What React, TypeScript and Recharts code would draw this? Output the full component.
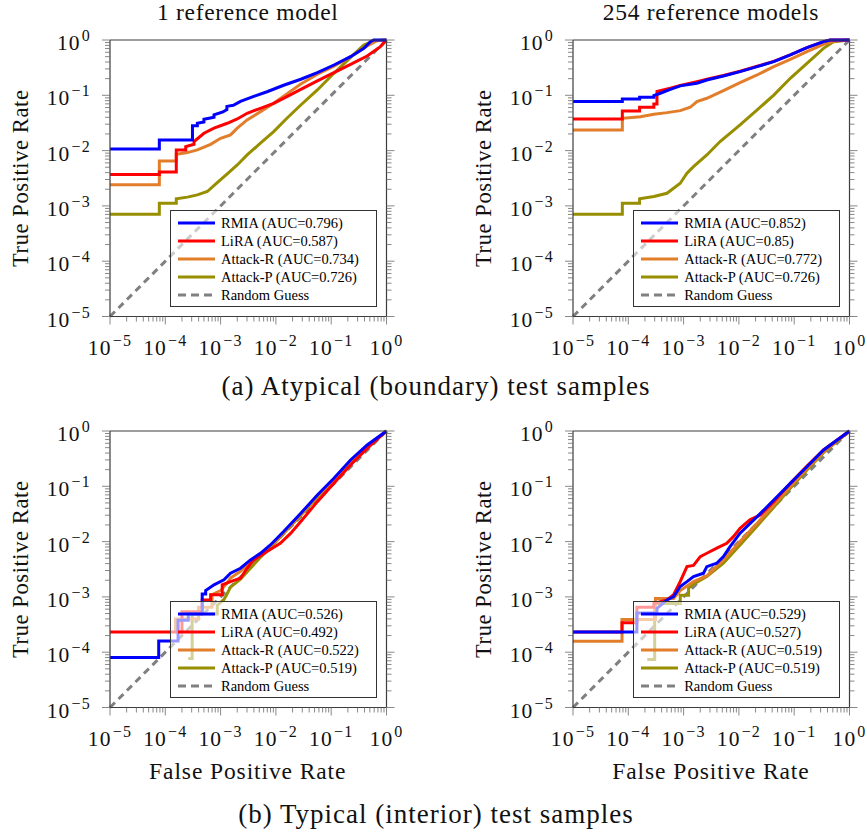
import React from 'react';
import { LineChart, Line, XAxis, YAxis, Legend } from 'recharts';

const FONT = "'Liberation Serif', 'DejaVu Serif', serif";

// ---------- tick values ----------
const majorTicks = [1e-5, 1e-4, 1e-3, 1e-2, 1e-1, 1];
const minorSteps = [2, 3, 4, 5, 6, 7, 8, 9];
const tickValues = [
  ...majorTicks,
  ...majorTicks.slice(0, -1).flatMap((m) => minorSteps.map((s) => m * s)),
].sort((a, b) => a - b);
const axisDomain: [number, number] = [1e-5, 1];

// ---------- series meta ----------
const seriesNames = ['RMIA', 'LiRA', 'Attack-R', 'Attack-P', 'Random Guess'];
const seriesColors = ['#0000ff', '#ff0000', '#e27d2a', '#978e00', '#808080'];

const panelTitles = ['1 reference model', '254 reference models'];
const captions = ['(a) Atypical (boundary) test samples', '(b) Typical (interior) test samples'];

const aucTL = ['0.796', '0.587', '0.734', '0.726'];
const aucTR = ['0.852', '0.85', '0.772', '0.726'];
const aucBL = ['0.526', '0.492', '0.522', '0.519'];
const aucBR = ['0.529', '0.527', '0.519', '0.519'];

// ---------- data: [FPR, TPR] ----------
const randomGuess = [[1e-5, 1e-5], [1, 1]];

// (a) Atypical, 1 reference model
const tlRmia = [
  [1e-5, 1.07e-2], [7.8e-5, 1.07e-2], [7.8e-5, 1.56e-2], [3.1e-4, 1.56e-2], [3.1e-4, 2.8e-2],
  [3.8e-4, 2.8e-2], [3.8e-4, 3.12e-2], [5.0e-4, 3.3e-2], [5.0e-4, 3.68e-2], [7.6e-4, 4.0e-2],
  [7.6e-4, 4.42e-2], [1.1e-3, 5.0e-2], [1.3e-3, 5.5e-2], [1.3e-3, 6.3e-2], [1.7e-3, 6.6e-2],
  [2.29e-3, 7.76e-2], [3.98e-3, 9.55e-2], [6.92e-3, 0.116], [1.38e-2, 0.152], [2.82e-2, 0.195],
  [5.62e-2, 0.257], [0.112, 0.353], [0.224, 0.5], [0.389, 0.706], [0.513, 0.933], [0.589, 1], [1, 1],
];
const tlLira = [
  [1e-5, 3.68e-3], [7.8e-5, 3.68e-3], [7.8e-5, 4.1e-3], [1.58e-4, 4.1e-3], [1.58e-4, 1.03e-2],
  [2.34e-4, 1.03e-2], [2.34e-4, 1.18e-2], [3.31e-4, 1.3e-2], [3.31e-4, 1.46e-2], [5.0e-4, 2.06e-2],
  [7.6e-4, 2.54e-2], [1.32e-3, 3.12e-2], [2.0e-3, 3.73e-2], [3.02e-3, 4.73e-2], [5.25e-3, 5.82e-2],
  [9.12e-3, 7.16e-2], [1.58e-2, 9.46e-2], [2.82e-2, 0.128], [5.62e-2, 0.182], [0.112, 0.257],
  [0.224, 0.363], [0.447, 0.514], [0.776, 0.759], [1, 1],
];
const tlAttackR = [
  [1e-5, 2.4e-3], [7.8e-5, 2.4e-3], [7.8e-5, 6.5e-3], [1.58e-4, 6.5e-3], [1.58e-4, 8.6e-3],
  [2.51e-4, 9.2e-3], [3.8e-4, 1.03e-2], [6.6e-4, 1.3e-2], [1.0e-3, 1.67e-2], [1.51e-3, 1.92e-2],
  [2.0e-3, 2.54e-2], [3.02e-3, 3.58e-2], [5.25e-3, 5.07e-2], [9.12e-3, 7.16e-2], [1.58e-2, 0.106],
  [2.82e-2, 0.16], [5.62e-2, 0.24], [0.112, 0.335], [0.224, 0.5], [0.447, 0.78], [0.676, 0.973], [1, 1],
];
const tlAttackP = [
  [1e-5, 7.1e-4], [7.8e-5, 7.1e-4], [7.8e-5, 1.12e-3], [1.58e-4, 1.12e-3], [1.58e-4, 1.34e-3],
  [2.51e-4, 1.44e-3], [3.8e-4, 1.58e-3], [5.75e-4, 1.82e-3], [8.7e-4, 2.64e-3], [1.32e-3, 3.8e-3],
  [2.0e-3, 5.5e-3], [3.02e-3, 8.35e-3], [5.25e-3, 1.36e-2], [9.12e-3, 2.2e-2], [1.58e-2, 3.84e-2],
  [2.82e-2, 6.68e-2], [5.62e-2, 0.125], [0.112, 0.25], [0.224, 0.486], [0.389, 0.813], [0.589, 0.973], [1, 1],
];

// (a) Atypical, 254 reference models
const trRmia = [
  [1e-5, 7.7e-2], [7.8e-5, 7.7e-2], [7.8e-5, 8.6e-2], [1.6e-4, 8.6e-2], [1.6e-4, 9.2e-2],
  [2.9e-4, 9.2e-2], [2.9e-4, 9.86e-2], [3.8e-4, 0.109], [5.75e-4, 0.128], [8.7e-4, 0.148],
  [1.74e-3, 0.165], [2.63e-3, 0.189], [5.25e-3, 0.223], [1.05e-2, 0.268], [2.14e-2, 0.33],
  [4.27e-2, 0.406], [8.5e-2, 0.536], [0.17, 0.726], [0.339, 0.933], [0.447, 1], [1, 1],
];
const trLira = [
  [1e-5, 3.73e-2], [7.8e-5, 3.73e-2], [7.8e-5, 5.2e-2], [1.6e-4, 5.2e-2], [1.6e-4, 6.07e-2],
  [2.9e-4, 6.07e-2], [2.9e-4, 6.97e-2], [3.3e-4, 6.97e-2], [3.3e-4, 0.118], [5.75e-4, 0.134],
  [8.7e-4, 0.15], [1.74e-3, 0.177], [2.63e-3, 0.195], [5.25e-3, 0.228], [1.05e-2, 0.272],
  [2.14e-2, 0.335], [4.27e-2, 0.41], [8.5e-2, 0.54], [0.17, 0.73], [0.339, 0.933], [0.447, 1], [1, 1],
];
const trAttackR = [
  [1e-5, 2.36e-2], [7.8e-5, 2.36e-2], [7.8e-5, 3.84e-2], [1.66e-4, 4.11e-2], [2.9e-4, 4.54e-2],
  [5.0e-4, 4.86e-2], [8.7e-4, 5.28e-2], [1.32e-3, 6.07e-2], [1.74e-3, 7.69e-2], [2.63e-3, 8.83e-2],
  [5.25e-3, 0.121], [1.05e-2, 0.169], [2.14e-2, 0.233], [4.27e-2, 0.33], [8.5e-2, 0.448],
  [0.17, 0.615], [0.339, 0.836], [0.589, 0.973], [1, 1],
];
const trAttackP = [
  [1e-5, 7.1e-4], [7.8e-5, 7.1e-4], [7.8e-5, 1.12e-3], [1.6e-4, 1.12e-3], [1.6e-4, 1.34e-3],
  [2.9e-4, 1.48e-3], [5.0e-4, 1.69e-3], [8.7e-4, 2.57e-3], [1.15e-3, 3.89e-3], [1.51e-3, 5.14e-3],
  [2.63e-3, 8.35e-3], [4.57e-3, 1.46e-2], [1.05e-2, 2.91e-2], [2.14e-2, 5.43e-2], [4.27e-2, 0.101],
  [8.5e-2, 0.203], [0.17, 0.378], [0.339, 0.706], [0.513, 0.933], [1, 1],
];

// (b) Typical, 1 reference model
const blRmia = [
  [1e-5, 8.0e-5], [7.6e-5, 8.0e-5], [7.6e-5, 1.6e-4], [1.7e-4, 1.6e-4], [1.7e-4, 3.8e-4],
  [2.6e-4, 3.8e-4], [2.6e-4, 4.9e-4], [4.65e-4, 4.9e-4], [4.65e-4, 1.13e-3], [5.37e-4, 1.13e-3],
  [5.37e-4, 1.3e-3], [7.6e-4, 1.65e-3], [1.15e-3, 2.03e-3], [1.51e-3, 2.68e-3], [2.29e-3, 3.3e-3],
  [3.47e-3, 4.67e-3], [5.25e-3, 6.15e-3], [7.94e-3, 8.7e-3], [1.38e-2, 1.52e-2], [2.82e-2, 3.25e-2],
  [5.62e-2, 6.97e-2], [0.112, 0.14], [0.224, 0.299], [0.447, 0.558], [1, 1],
];
const blLira = [
  [1e-5, 2.33e-4], [2.0e-4, 2.33e-4], [2.0e-4, 5.4e-4], [4.65e-4, 5.4e-4], [4.65e-4, 8.8e-4],
  [6.6e-4, 8.8e-4], [6.6e-4, 1.09e-3], [1.07e-3, 1.09e-3], [1.07e-3, 1.65e-3], [1.51e-3, 1.89e-3],
  [2.29e-3, 2.17e-3], [3.02e-3, 3.3e-3], [3.98e-3, 4.67e-3], [6.92e-3, 6.6e-3], [1.2e-2, 9.3e-3],
  [1.86e-2, 1.42e-2], [2.82e-2, 2.3e-2], [5.62e-2, 5.28e-2], [0.112, 0.113], [0.224, 0.243],
  [0.447, 0.486], [1, 1],
];
const blAttackR = [
  [1.53e-4, 2.2e-4], [1.53e-4, 4.0e-4], [4.0e-4, 4.0e-4], [4.0e-4, 6.5e-4], [7.0e-4, 6.5e-4],
  [7.0e-4, 1.1e-3], [1.0e-3, 1.3e-3], [1.32e-3, 1.8e-3], [1.51e-3, 2.2e-3], [2.29e-3, 2.9e-3],
  [3.47e-3, 4.3e-3], [5.25e-3, 5.9e-3], [7.94e-3, 8.3e-3], [1.38e-2, 1.45e-2], [2.82e-2, 3.1e-2],
  [5.62e-2, 6.6e-2], [0.112, 0.13], [0.224, 0.275], [0.447, 0.52], [1, 1],
];
const blAttackP = [
  [2.6e-4, 7.7e-5], [3.06e-4, 7.7e-5], [3.06e-4, 4.9e-4], [8.7e-4, 4.9e-4], [8.7e-4, 7.0e-4],
  [1.15e-3, 9.0e-4], [1.32e-3, 1.15e-3], [1.51e-3, 1.5e-3], [2.29e-3, 2.1e-3], [3.47e-3, 3.3e-3],
  [5.25e-3, 5.2e-3], [7.94e-3, 7.8e-3], [1.38e-2, 1.4e-2], [2.82e-2, 3.0e-2], [5.62e-2, 6.3e-2],
  [0.112, 0.127], [0.224, 0.27], [0.447, 0.51], [1, 1],
];

// (b) Typical, 254 reference models
const brRmia = [
  [1e-5, 2.33e-4], [1.43e-4, 2.33e-4], [1.43e-4, 5.1e-4], [3.3e-4, 5.1e-4], [3.3e-4, 6.2e-4],
  [5.0e-4, 8.8e-4], [6.6e-4, 1.01e-3], [8.7e-4, 1.54e-3], [1.15e-3, 1.89e-3], [1.51e-3, 2.33e-3],
  [2.29e-3, 2.68e-3], [2.63e-3, 3.53e-3], [3.98e-3, 4.06e-3], [5.25e-3, 5.36e-3], [6.92e-3, 8.1e-3],
  [1.05e-2, 1.42e-2], [2.14e-2, 2.83e-2], [4.27e-2, 5.66e-2], [8.5e-2, 0.113], [0.17, 0.226],
  [0.339, 0.454], [1, 1],
];
const brLira = [
  [1e-5, 2.33e-4], [7.7e-5, 2.33e-4], [7.7e-5, 3.4e-4], [1.43e-4, 3.4e-4], [1.43e-4, 6.5e-4],
  [2.9e-4, 6.5e-4], [2.9e-4, 7.6e-4], [5.0e-4, 8.8e-4], [6.6e-4, 1.1e-3], [8.7e-4, 1.9e-3],
  [1.15e-3, 3.53e-3], [1.51e-3, 3.7e-3], [2.0e-3, 5.36e-3], [2.63e-3, 6.15e-3], [3.98e-3, 7.6e-3],
  [6.03e-3, 9.3e-3], [7.94e-3, 1.23e-2], [1.05e-2, 1.74e-2], [1.58e-2, 2.47e-2], [2.45e-2, 3.03e-2],
  [4.27e-2, 5.28e-2], [8.5e-2, 0.113], [0.17, 0.233], [0.339, 0.454], [1, 1],
];
const brAttackR = [
  [1e-5, 1.58e-4], [7.7e-5, 1.58e-4], [7.7e-5, 3.9e-4], [3.1e-4, 3.9e-4], [3.1e-4, 9.4e-4],
  [6.6e-4, 9.4e-4], [8.7e-4, 1.3e-3], [1.51e-3, 1.89e-3], [2.63e-3, 2.4e-3], [5.25e-3, 4.67e-3],
  [1.05e-2, 1.0e-2], [2.14e-2, 2.14e-2], [4.27e-2, 4.6e-2], [8.5e-2, 9.86e-2], [0.17, 0.211],
  [0.339, 0.424], [1, 1],
];
const brAttackP = [
  [2.2e-4, 7.4e-5], [3.0e-4, 7.4e-5], [3.0e-4, 7.6e-4], [8.7e-4, 7.6e-4], [8.7e-4, 1.07e-3],
  [1.23e-3, 1.07e-3], [1.23e-3, 1.44e-3], [1.51e-3, 1.7e-3], [2.63e-3, 2.33e-3], [5.25e-3, 4.06e-3],
  [1.05e-2, 8.7e-3], [2.14e-2, 1.92e-2], [4.27e-2, 4.17e-2], [8.5e-2, 9.2e-2], [0.17, 0.197],
  [0.339, 0.406], [1, 1],
];

// ---------- layout ----------
const PLOT = 276.5;
const AX = 2; // axis box thickness
const ML = 108;
const MT = 38;
const MR = 28;
const MB = 53;
const OFF_L = ML + AX;
const OFF_T = MT + AX;
const MAJOR_LEN = 8;
const MINOR_LEN = 5;
const TICK_COLOR = '#6a6a6a';
const FRAME_COLOR = '#3c3c3c';

const toPts = (a: number[][]) => a.map(([x, y]) => ({ x, y }));
const isMajor = (v: number) => {
  const l = Math.log10(v);
  return Math.abs(l - Math.round(l)) < 1e-6;
};
const expText = (v: number) => {
  const e = Math.round(Math.log10(v));
  return e < 0 ? '\u2212' + Math.abs(e) : String(e);
};

function TickText({ x, y, v, anchor }: { x: number; y: number; v: number; anchor: string }) {
  return (
    <text x={x} y={y} textAnchor={anchor as any} fontFamily={FONT} fontSize={21.5} fill="#111" letterSpacing={1.2}>
      10
      <tspan dx={1} dy={-9} fontSize={16}>
        {expText(v)}
      </tspan>
    </text>
  );
}

function XTick(props: any) {
  const { x, payload, tside, withLabels, plotTop, plotBottom } = props;
  const v = payload.value;
  const m = isMajor(v);
  const y0 = tside === 'top' ? plotTop : plotBottom;
  const dir = tside === 'top' ? -1 : 1;
  return (
    <g>
      <line x1={x} x2={x} y1={y0} y2={y0 + dir * (m ? MAJOR_LEN : MINOR_LEN)} stroke={TICK_COLOR} strokeWidth={0.8} />
      {m && withLabels ? <TickText x={x} y={y0 + 38} v={v} anchor="middle" /> : null}
    </g>
  );
}

function YTick(props: any) {
  const { y, payload, tside, withLabels, plotLeft, plotRight } = props;
  const v = payload.value;
  const m = isMajor(v);
  const x0 = tside === 'right' ? plotRight : plotLeft;
  const dir = tside === 'right' ? 1 : -1;
  return (
    <g>
      <line x1={x0} x2={x0 + dir * (m ? MAJOR_LEN : MINOR_LEN)} y1={y} y2={y} stroke={TICK_COLOR} strokeWidth={0.8} />
      {m && withLabels ? <TickText x={x0 - 19} y={y + 10} v={v} anchor="end" /> : null}
    </g>
  );
}

function LegendBox({ aucs }: { aucs: string[] }) {
  return (
    <div
      style={{
        width: 207,
        height: 97,
        boxSizing: 'border-box',
        border: '1px solid #333',
        background: 'rgba(255,255,255,0.6)',
        fontFamily: FONT,
        fontSize: 14.5,
        paddingTop: 3,
      }}
    >
      {seriesNames.map((n, i) => (
        <div key={n} style={{ display: 'flex', alignItems: 'center', height: 18 }}>
          <svg width={45} height={18} style={{ flex: 'none' }}>
            <line
              x1={7}
              x2={44}
              y1={9}
              y2={9}
              stroke={seriesColors[i]}
              strokeWidth={3}
              strokeDasharray={i === 4 ? '8 5' : undefined}
            />
          </svg>
          <span style={{ marginLeft: 5, lineHeight: '18px', color: '#000', whiteSpace: 'nowrap' }}>
            {i < 4 ? `${n} (AUC=${aucs[i]})` : n}
          </span>
        </div>
      ))}
    </div>
  );
}

function Panel({ px, py, series, aucs }: { px: number; py: number; series: number[][][]; aucs: string[] }) {
  const W = OFF_L + PLOT + AX + MR;
  const H = OFF_T + PLOT + AX + MB;
  const drawOrder = [4, 3, 2, 1, 0];
  const geo = { plotLeft: OFF_L, plotRight: OFF_L + PLOT, plotTop: OFF_T, plotBottom: OFF_T + PLOT };
  const axisCommon = {
    type: 'number' as const,
    scale: 'log' as const,
    domain: axisDomain,
    ticks: tickValues,
    interval: 0 as const,
    tickSize: 0,
    tickMargin: 0,
    tickLine: false,
    axisLine: { stroke: FRAME_COLOR, strokeWidth: 1.2 },
  };
  return (
    <div style={{ position: 'absolute', left: px - OFF_L, top: py - OFF_T }}>
      <LineChart width={W} height={H} margin={{ top: MT, right: MR, bottom: MB, left: ML }}>
        <XAxis {...axisCommon} xAxisId="b" dataKey="x" orientation="bottom" height={AX} tick={<XTick tside="bottom" withLabels {...geo} />} />
        <XAxis {...axisCommon} xAxisId="t" orientation="top" height={AX} allowDataOverflow tick={<XTick tside="top" {...geo} />} />
        <YAxis {...axisCommon} yAxisId="l" orientation="left" width={AX} tick={<YTick tside="left" withLabels {...geo} />} />
        <YAxis {...axisCommon} yAxisId="r" orientation="right" width={AX} allowDataOverflow tick={<YTick tside="right" {...geo} />} />
        {drawOrder.map((i) => (
          <Line
            key={seriesNames[i]}
            name={seriesNames[i]}
            xAxisId="b"
            yAxisId="l"
            data={toPts(series[i])}
            dataKey="y"
            type="linear"
            stroke={seriesColors[i]}
            strokeWidth={3}
            strokeDasharray={i === 4 ? '7 5' : undefined}
            dot={false}
            activeDot={false}
            isAnimationActive={false}
          />
        ))}
        <Legend
          layout="vertical"
          verticalAlign="middle"
          align="center"
          content={<LegendBox aucs={aucs} />}
          wrapperStyle={{ left: OFF_L + PLOT - 9 - 207, top: OFF_T + PLOT - 9.5 - 97, width: 207, height: 97 }}
        />
      </LineChart>
    </div>
  );
}

export default function App() {
  const leftX = 109.5;
  const rightX = 572.7;
  const topY = 40;
  const botY = 431;
  const cx = (x: number) => x + PLOT / 2;
  return (
    <div style={{ position: 'absolute', left: 0, top: 0, width: 867, height: 834, background: '#fff', overflow: 'hidden' }}>
      <svg width={867} height={834} style={{ position: 'absolute', left: 0, top: 0 }}>
        <g fontFamily={FONT} fill="#111">
          <text x={cx(leftX)} y={20} textAnchor="middle" fontSize={23.5} letterSpacing={0.7}>{panelTitles[0]}</text>
          <text x={cx(rightX)} y={20} textAnchor="middle" fontSize={23.5} letterSpacing={0.7}>{panelTitles[1]}</text>
          <text x={436} y={395} textAnchor="middle" fontSize={27} letterSpacing={1}>{captions[0]}</text>
          <text x={436} y={823} textAnchor="middle" fontSize={27} letterSpacing={1}>{captions[1]}</text>
          <text x={cx(leftX)} y={779} textAnchor="middle" fontSize={23.5} letterSpacing={0.9}>False Positive Rate</text>
          <text x={cx(rightX)} y={779} textAnchor="middle" fontSize={23.5} letterSpacing={0.9}>False Positive Rate</text>
          {[
            [leftX, topY],
            [rightX, topY],
            [leftX, botY],
            [rightX, botY],
          ].map(([x, y], i) => (
            <text
              key={i}
              transform={`translate(${x - 81.5},${y + PLOT / 2}) rotate(-90)`}
              textAnchor="middle"
              fontSize={22.5}
              letterSpacing={0.6}
            >
              True Positive Rate
            </text>
          ))}
        </g>
      </svg>
      <Panel px={leftX} py={topY} series={[tlRmia, tlLira, tlAttackR, tlAttackP, randomGuess]} aucs={aucTL} />
      <Panel px={rightX} py={topY} series={[trRmia, trLira, trAttackR, trAttackP, randomGuess]} aucs={aucTR} />
      <Panel px={leftX} py={botY} series={[blRmia, blLira, blAttackR, blAttackP, randomGuess]} aucs={aucBL} />
      <Panel px={rightX} py={botY} series={[brRmia, brLira, brAttackR, brAttackP, randomGuess]} aucs={aucBR} />
    </div>
  );
}
